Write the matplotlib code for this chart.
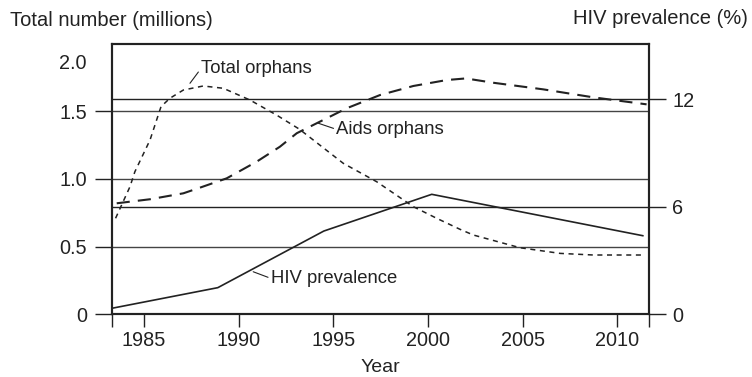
import matplotlib
matplotlib.use('Agg')
import matplotlib.pyplot as plt
import matplotlib.transforms as mtransforms

plt.rcParams['font.family'] = ['Liberation Sans', 'DejaVu Sans']

# values
total_years = [1983.5, 1984.26, 1984.52, 1985.32, 1985.9, 1986.37, 1987.08, 1988.13, 1989.19,
               1990.6, 1992.0, 1993.2, 1995.53, 1997.29, 1999.23, 2000.46, 2001.7, 2002.4,
               2004.86, 2006.98, 2008.74, 2011.3]
total_orphans = [0.709, 0.943, 1.054, 1.289, 1.536, 1.598, 1.659, 1.689, 1.672,
                 1.585, 1.474, 1.37, 1.116, 0.98, 0.795, 0.709, 0.627, 0.585,
                 0.491, 0.449, 0.437, 0.437]

aids_years = [1983.56, 1985.32, 1987.08, 1987.96, 1989.37, 1990.95, 1992.18, 1993.07, 1993.94,
              1995.71, 1997.47, 1999.23, 2000.99, 2002.0, 2003.45, 2006.09, 2008.73, 2011.55]
aids_orphans = [0.82, 0.85, 0.894, 0.936, 1.005, 1.128, 1.239, 1.339, 1.4,
                1.524, 1.622, 1.689, 1.733, 1.745, 1.713, 1.664, 1.605, 1.553]

hiv_years = [1983.31, 1988.9, 1994.5, 2000.2, 2011.35]
hiv_prev = [0.32, 1.47, 4.63, 6.68, 4.37]

x_ticks = [1985, 1990, 1995, 2000, 2005, 2010]
left_ticks = [0, 0.5, 1.0, 1.5, 2.0]
left_labels = ['0', '0.5', '1.0', '1.5', '2.0']
right_ticks = [0, 6, 12]

ink = '#222222'

fig = plt.figure(figsize=(7.52, 3.77), dpi=100)
ax = fig.add_axes([0.1489, 0.1671, 0.7137, 0.7162])
ax2 = ax.twinx()

ax.set_xlim(1983.31, 2011.66)
ax.set_ylim(0, 2.0)
ax2.set_ylim(0, 15.07)

# horizontal reference lines from both scales
for v in left_ticks[1:4]:
    ax.axhline(v, color='#444444', lw=1.0, zorder=1)
for v in right_ticks[1:]:
    ax2.axhline(v, color='#222222', lw=1.0, zorder=1)

ax.plot(total_years, total_orphans, color=ink, lw=1.1, dashes=(3.3, 3.0), zorder=3)
ax.plot(aids_years, aids_orphans, color=ink, lw=1.5, dashes=(6.3, 3.9), zorder=3)
ax2.plot(hiv_years, hiv_prev, color=ink, lw=1.2, zorder=3)

for a in (ax, ax2):
    for s in a.spines.values():
        s.set_linewidth(1.5)
        s.set_color(ink)

ax.set_xticks(x_ticks)
ax.set_xticks([1983.31, 2011.66], minor=True)
ax.tick_params(axis='x', which='both', direction='out', length=9, width=1.0,
               labelsize=14.3, pad=3.5, colors=ink)
ax.set_yticks(left_ticks)
ax.set_yticklabels(left_labels)
ax.tick_params(axis='y', direction='out', length=12, width=1.0, labelsize=14.3,
               pad=6, colors=ink)
# top label sits below the frame corner and has no tick mark
top_tick = ax.yaxis.get_major_ticks()[-1]
top_tick.tick1line.set_visible(False)
top_tick.label1.set_transform(top_tick.label1.get_transform() +
                              mtransforms.ScaledTranslation(0, -18 / 100, fig.dpi_scale_trans))

ax2.set_yticks(right_ticks)
ax2.tick_params(axis='y', direction='out', length=12, width=1.0, labelsize=14.3,
                pad=5, colors=ink)

ax.set_xlabel('Year', fontsize=14, color=ink, labelpad=6)

fig.text(10 / 752, 1 - 20 / 377, 'Total number (millions)', fontsize=14.5,
         ha='left', va='center', color=ink)
fig.text(748 / 752, 1 - 19 / 377, 'HIV prevalence (%)', fontsize=14.5,
         ha='right', va='center', color=ink)

arrow = dict(arrowstyle='-', shrinkA=0, shrinkB=0, lw=0.8, color=ink, relpos=(0, 0.5))
ax.annotate('Total orphans', xy=(1987.43, 1.709), xytext=(1988.02, 1.82),
            fontsize=13.3, ha='left', va='center', color=ink, arrowprops=arrow)
ax.annotate('Aids orphans', xy=(1994.21, 1.413), xytext=(1995.16, 1.368),
            fontsize=13.3, ha='left', va='center', color=ink, arrowprops=arrow)
ax.annotate('HIV prevalence', xy=(1990.77, 0.313), xytext=(1991.7, 0.264),
            fontsize=13.3, ha='left', va='center', color=ink, arrowprops=arrow)

plt.savefig('out.png', dpi=100)
plt.close()
